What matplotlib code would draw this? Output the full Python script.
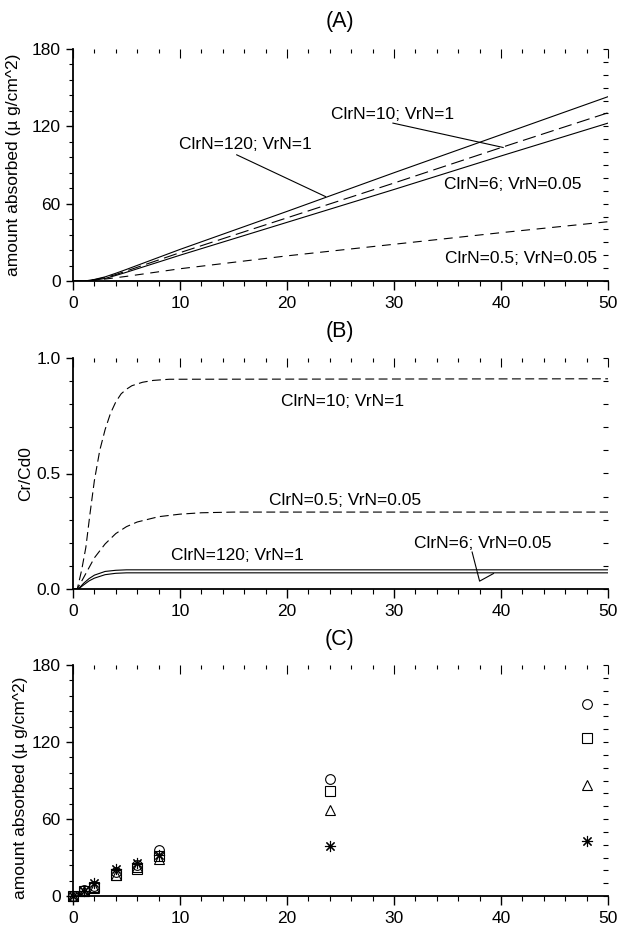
import matplotlib
matplotlib.use("Agg")
import matplotlib.pyplot as plt
from matplotlib.ticker import MultipleLocator

plt.rcParams['font.family'] = ['Liberation Sans', 'DejaVu Sans']

# ---------------- Panel A data (amount absorbed, ug/cm^2) ----------------
t_a = [0, 1.1, 2, 3, 4, 5, 10, 20, 30, 40, 50]
a_clr120 = [0, 0, 1.2, 3.2, 6, 9, 24.5, 54, 84, 113.5, 143]
a_clr10 = [0, 0, 1.0, 2.7, 5, 7.8, 22, 49, 76, 103.5, 130.5]
a_clr6 = [0, 0, 0.6, 2.0, 4.3, 6.8, 20, 45.5, 71, 97, 122.5]
t_a2 = [0, 1.5, 3, 5, 10, 20, 30, 40, 50]
a_clr05 = [0, 0, 1.5, 3.6, 9.5, 19.5, 28.5, 37.5, 46]

# ---------------- Panel B data (Cr/Cd0) ----------------
t_b1 = [0, 0.4, 0.8, 1.2, 1.6, 2, 2.5, 3, 3.5, 4, 4.5, 5, 5.5, 6.5, 7.5, 9, 50]
b_clr10 = [0, 0, 0.08, 0.18, 0.33, 0.47, 0.6, 0.69, 0.76, 0.81, 0.845, 0.865, 0.88, 0.895, 0.903, 0.908, 0.91]
t_b2 = [0, 0.4, 1, 2, 3, 4, 5, 6, 8, 10, 12, 15, 50]
b_clr05 = [0, 0, 0.05, 0.135, 0.195, 0.24, 0.27, 0.29, 0.313, 0.324, 0.33, 0.333, 0.333]
t_b3 = [0, 0.5, 1, 1.5, 2, 3, 4, 5, 50]
b_clr120 = [0, 0, 0.025, 0.045, 0.06, 0.076, 0.081, 0.083, 0.083]
b_clr6 = [0, 0, 0.018, 0.035, 0.047, 0.062, 0.068, 0.07, 0.07]

# ---------------- Panel C data (measured) ----------------
t_c = [0, 1, 2, 4, 6, 8, 24, 48]
c_circle = [0, 4.4, 7.5, 18.7, 24, 35.6, 91, 150]
c_square = [0, 3.9, 7, 16, 21.3, 31, 81.7, 122.8]
c_triangle = [0, 3.6, 6.5, 16, 22.6, 29, 67.4, 86.4]
c_star = [0, 4, 10, 21, 26, 31.7, 39, 42.9]

x_ticks = [0, 10, 20, 30, 40, 50]
ylab_a = "amount absorbed (\u00b5 g/cm^2)"

W, H = 617, 932
fig = plt.figure(figsize=(W / 100, H / 100), dpi=100)

left = 73 / W
width = 535 / W


def make_axes(top_px, bot_px):
    return fig.add_axes([left, 1 - bot_px / H, width, (bot_px - top_px) / H])


def style(ax, ymax, ymajor, yminor, yright, yfmt=None):
    ax.set_xlim(0, 50)
    ax.set_ylim(0, ymax)
    ax.set_xticks(x_ticks)
    ax.xaxis.set_minor_locator(MultipleLocator(2))
    ax.yaxis.set_major_locator(MultipleLocator(ymajor))
    ax.yaxis.set_minor_locator(MultipleLocator(yminor))
    if yfmt:
        ax.yaxis.set_major_formatter(yfmt)
    for s in ['top', 'right']:
        ax.spines[s].set_visible(False)
    for s in ['left', 'bottom']:
        ax.spines[s].set_linewidth(1.3)
    ax.tick_params(axis='x', which='major', direction='out', length=6.5, width=1.0,
                   labelsize=12.5, pad=4, top=False)
    ax.tick_params(axis='x', which='minor', direction='out', length=3.5, width=0.8, top=False)
    ax.tick_params(axis='y', which='major', direction='out', length=5, width=1.0,
                   labelsize=12.5, pad=4, right=False)
    ax.tick_params(axis='y', which='minor', direction='out', length=3, width=0.8, right=False)
    # top ticks (no spine)
    sx = ax.secondary_xaxis('top')
    sx.set_xticks(x_ticks)
    sx.xaxis.set_minor_locator(MultipleLocator(2))
    sx.tick_params(which='major', direction='in', length=6.5, width=0.8, labeltop=False)
    sx.tick_params(which='minor', direction='in', length=3, width=0.8)
    for s in sx.spines.values():
        s.set_visible(False)
    # right ticks (no spine)
    sy = ax.secondary_yaxis('right')
    sy.yaxis.set_major_locator(MultipleLocator(yright))
    sy.tick_params(which='major', direction='in', length=3.5, width=0.8, labelright=False)
    for s in sy.spines.values():
        s.set_visible(False)


lw = 0.8
fs = 12.5

# ---------------- Panel A ----------------
axA = make_axes(49, 281)
style(axA, 180, 60, 12, 10)
axA.plot(t_a, a_clr120, color='black', lw=lw)
axA.plot(t_a, a_clr10, color='black', lw=lw, dashes=(12, 5))
axA.plot(t_a, a_clr6, color='black', lw=lw)
axA.plot(t_a2, a_clr05, color='black', lw=lw, dashes=(8, 6))
axA.set_ylabel(ylab_a, fontsize=fs)
axA.yaxis.set_label_coords(-0.098, 0.5)
axA.text(29.9, 129, "ClrN=10; VrN=1", fontsize=fs, ha='center', va='center')
axA.text(16.1, 105.7, "ClrN=120; VrN=1", fontsize=fs, ha='center', va='center')
axA.text(41.1, 74.6, "ClrN=6; VrN=0.05", fontsize=fs, ha='center', va='center')
axA.text(41.9, 17.6, "ClrN=0.5; VrN=0.05", fontsize=fs, ha='center', va='center')
axA.plot([15.3, 23.6], [97.9, 65.5], color='black', lw=lw)
axA.plot([29.9, 40.2], [122.5, 103.6], color='black', lw=lw)
fig.text(340 / W, 1 - 22 / H, "(A)", fontsize=15.5, ha='center', va='center')

# ---------------- Panel B ----------------
axB = make_axes(358, 589)
style(axB, 1.0, 0.5, 0.1, 0.1, yfmt=matplotlib.ticker.FormatStrFormatter('%.1f'))
axB.plot(t_b1, b_clr10, color='black', lw=lw, dashes=(8, 4))
axB.plot(t_b2, b_clr05, color='black', lw=lw, dashes=(8, 4))
axB.plot(t_b3, b_clr120, color='black', lw=lw)
axB.plot(t_b3, b_clr6, color='black', lw=lw)
axB.set_ylabel("Cr/Cd0", fontsize=fs)
axB.yaxis.set_label_coords(-0.075, 0.5)
axB.text(25.2, 0.81, "ClrN=10; VrN=1", fontsize=fs, ha='center', va='center')
axB.text(25.4, 0.385, "ClrN=0.5; VrN=0.05", fontsize=fs, ha='center', va='center')
axB.text(15.4, 0.146, "ClrN=120; VrN=1", fontsize=fs, ha='center', va='center')
axB.text(38.3, 0.197, "ClrN=6; VrN=0.05", fontsize=fs, ha='center', va='center')
axB.plot([37.3, 38.0, 39.3], [0.16, 0.034, 0.067], color='black', lw=lw)
fig.text(340 / W, 1 - 332 / H, "(B)", fontsize=15.5, ha='center', va='center')

# ---------------- Panel C ----------------
axC = make_axes(665, 896)
style(axC, 180, 60, 12, 10)
mk = dict(linestyle='none', markerfacecolor='none', markeredgecolor='black',
          markeredgewidth=0.8, clip_on=False)
axC.plot(t_c, c_circle, marker='o', markersize=7, **mk)
axC.plot(t_c, c_square, marker='s', markersize=7, **mk)
axC.plot(t_c, c_triangle, marker='^', markersize=7, **mk)
axC.plot(t_c, c_star, marker=(8, 2, 0), markersize=8, linestyle='none',
         color='black', markeredgewidth=0.8, clip_on=False)
axC.set_ylabel(ylab_a, fontsize=fs)
axC.yaxis.set_label_coords(-0.085, 0.47)
fig.text(340 / W, 1 - 640 / H, "(C)", fontsize=15.5, ha='center', va='center')

fig.savefig("out.png", dpi=100)
